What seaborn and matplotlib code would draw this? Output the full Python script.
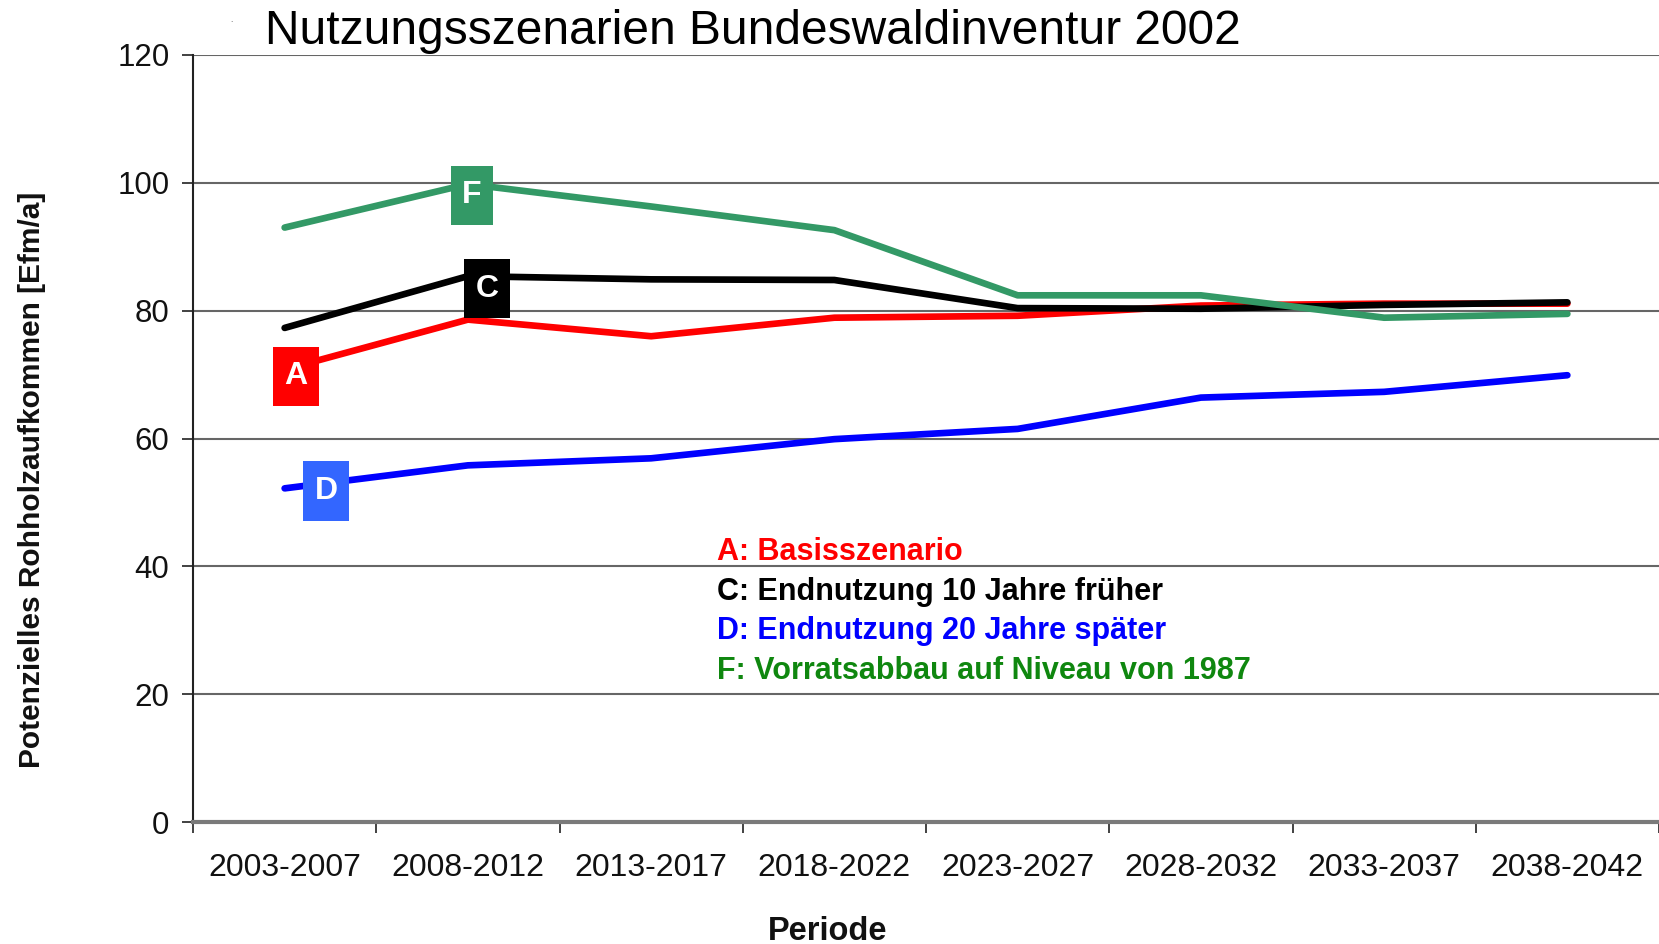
import matplotlib
matplotlib.use("Agg")
import matplotlib.pyplot as plt
from matplotlib.path import Path
import seaborn as sns
import pandas as pd
import numpy as np

# ---------------- data ----------------
periods = ["2003-2007", "2008-2012", "2013-2017", "2018-2022",
           "2023-2027", "2028-2032", "2033-2037", "2038-2042"]
scenario_keys = ["A", "C", "D", "F"]
legend_labels = ["A: Basisszenario",
                 "C: Endnutzung 10 Jahre früher",
                 "D: Endnutzung 20 Jahre später",
                 "F: Vorratsabbau auf Niveau von 1987"]
values_A = [70.8, 78.6, 76.0, 78.9, 79.2, 80.8, 81.1, 81.1]
values_C = [77.3, 85.4, 84.9, 84.8, 80.4, 80.3, 80.9, 81.3]
values_D = [52.2, 55.8, 56.9, 59.9, 61.5, 66.4, 67.3, 69.9]
values_F = [93.0, 99.8, 96.3, 92.6, 82.4, 82.4, 78.9, 79.5]
y_ticks = [0, 20, 40, 60, 80, 100, 120]
title = "Nutzungsszenarien Bundeswaldinventur 2002"
y_label = "Potenzielles Rohholzaufkommen [Efm/a]"
x_label = "Periode"

# ---------------- styles ----------------
line_colors = {"A": "#ff0000", "C": "#000000", "D": "#0000ff", "F": "#339966"}
box_colors = {"A": "#ff0000", "C": "#000000", "D": "#3366ff", "F": "#339966"}
legend_colors = ["#ff0000", "#000000", "#0000ff", "#0f870f"]

sns.set_theme(style="white")
plt.rcParams['font.family'] = ['Liberation Sans', 'DejaVu Sans']

all_values = {"A": values_A, "C": values_C, "D": values_D, "F": values_F}
df = pd.DataFrame({
    "Periode": [p for k in scenario_keys for p in periods],
    "Wert": [v for k in scenario_keys for v in all_values[k]],
    "Szenario": [k for k in scenario_keys for _ in periods],
})

W, H = 1659, 944
fig = plt.figure(figsize=(W / 100, H / 100), dpi=100)
ax = fig.add_axes([193 / W, 1 - 822 / H, 1 - 193 / W, (822 - 55) / H])

sns.lineplot(data=df, x="Periode", y="Wert", hue="Szenario",
             hue_order=scenario_keys, palette=line_colors,
             linewidth=4.8, ax=ax, legend=False, sort=False)
for ln in ax.lines:
    ln.set_solid_capstyle("round")
    ln.set_solid_joinstyle("round")
    ln.set_zorder(3)

ax.set_xlim(-0.5, 7.467)
ax.set_ylim(0, 120)
ax.set_yticks(y_ticks)
ax.set_xticks(range(len(periods)))
ax.set_xticklabels(periods)
ax.set_xticks(np.arange(-0.5, len(periods), 1.0), minor=True)

ax.set_axisbelow(True)
ax.yaxis.grid(True, color="#666666", linewidth=1.5)
ax.xaxis.grid(False)

for s in ["top", "right"]:
    ax.spines[s].set_visible(False)
ax.spines["left"].set_color("#222222")
ax.spines["left"].set_linewidth(1.5)
ax.spines["bottom"].set_color("#7a7a7a")
ax.spines["bottom"].set_linewidth(3)

ax.tick_params(axis="x", which="major", length=0, pad=22, labelsize=23,
               labelcolor="#111111")
ax.tick_params(axis="x", which="minor", bottom=True, length=8, width=1.3,
               color="#333333", direction="out")
ax.tick_params(axis="y", which="major", left=True, length=8, width=1.3,
               color="#333333", direction="out", pad=9, labelsize=22.5,
               labelcolor="#111111")

ax.set_ylabel(y_label, fontsize=21.5, fontweight="bold", color="#111111")
ax.yaxis.set_label_coords((46 - 193) / 1466, (822 - 480) / 767)
ax.set_xlabel(x_label, fontsize=23.5, fontweight="bold", color="#111111")
ax.xaxis.label.set_va("center")
ax.xaxis.set_label_coords((828 - 193) / 1466, -(931 - 822) / 767)


def tall_box(x0, y0, width, height, mutation_size):
    padx = 0.36 * mutation_size
    pady = 0.46 * mutation_size
    x0, y0 = x0 - padx, y0 - pady
    x1, y1 = x0 + width + 2 * padx, y0 + height + 2 * pady
    return Path([(x0, y0), (x1, y0), (x1, y1), (x0, y1), (x0, y0)],
                closed=True)


# letter boxes anchored at data points
box_anchor = {"A": (0, (8, -5)), "C": (1, (14, -9)),
              "D": (0, (30, -2)), "F": (1, (3, -8))}
for k in scenario_keys:
    idx, off = box_anchor[k]
    ax.annotate(k, xy=(idx, all_values[k][idx]), xytext=off,
                textcoords="offset points", ha="center", va="center",
                fontsize=23, fontweight="bold", color="white", zorder=5,
                bbox=dict(boxstyle=tall_box, fc=box_colors[k], ec="none"))

# text legend
for i, (lab, col) in enumerate(zip(legend_labels, legend_colors)):
    fig.text(717 / W, 1 - (552 + i * 39.7) / H, lab, fontsize=22,
             fontweight="bold", color=col, va="center", ha="left")

fig.text(265 / W, 1 - 44 / H, title, fontsize=34.5, va="baseline",
         ha="left", color="#000000")
fig.text(231 / W, 1 - 20 / H, ".", fontsize=6, color="#444444",
         va="center", ha="center")

fig.savefig("out.png", dpi=100)
